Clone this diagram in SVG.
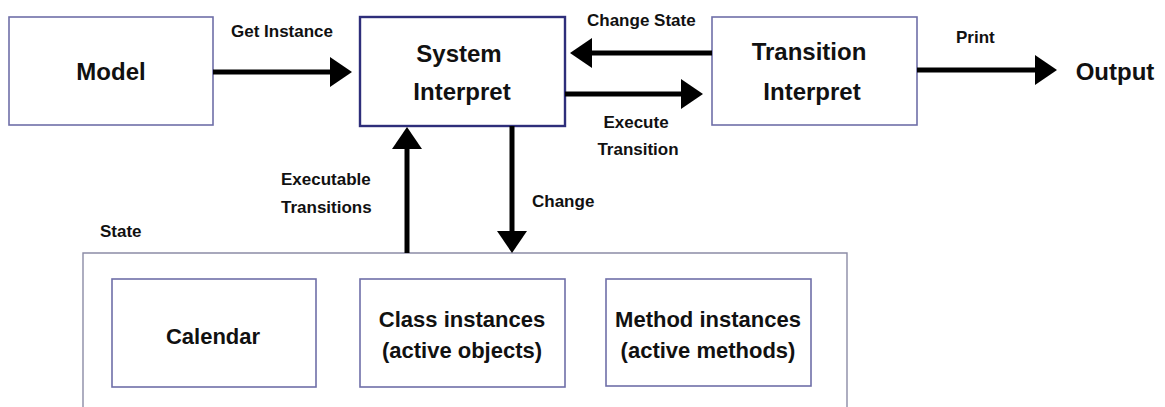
<svg xmlns="http://www.w3.org/2000/svg" width="1165" height="407" viewBox="0 0 1165 407">
<style>
.box{fill:#fff;stroke:#6f6fa8;stroke-width:1.6}
.main{fill:#fff;stroke:#2e2e7a;stroke-width:2.4}
.state{fill:#fff;stroke:#8c8ca6;stroke-width:1.4}
.big{font-family:"Liberation Sans",Arial,sans-serif;font-weight:bold;font-size:24px;fill:#111;text-anchor:middle}
.mid{font-family:"Liberation Sans",Arial,sans-serif;font-weight:bold;font-size:22px;fill:#111;text-anchor:middle}
.lbl{font-family:"Liberation Sans",Arial,sans-serif;font-weight:bold;font-size:17px;fill:#111}
.conn{stroke:#000;stroke-width:5;fill:none;marker-end:url(#ah)}
</style>
<defs>
<marker id="ah" markerUnits="userSpaceOnUse" markerWidth="24" markerHeight="32" refX="2" refY="15" orient="auto" viewBox="0 0 24 32">
<path d="M0,0 L22,15 L0,30 Z" fill="#000"/>
</marker>
</defs>
<rect width="1165" height="407" fill="#fff"/>
<g id="state">
<path class="state" d="M83,410 L83,253 L847,253 L847,410"/>
<text class="lbl" x="100" y="237">State</text>
</g>
<g id="model">
<rect class="box" x="9" y="17" width="204" height="108"/>
<text class="big" x="111" y="80">Model</text>
</g>
<g id="system">
<rect class="main" x="360" y="17" width="205" height="109"/>
<text class="big" x="459" y="62">System</text>
<text class="big" x="462" y="100">Interpret</text>
</g>
<g id="transition">
<rect class="box" x="712" y="17" width="205" height="108"/>
<text class="big" x="809" y="60">Transition</text>
<text class="big" x="812" y="100">Interpret</text>
</g>
<g id="output">
<text class="big" x="1115" y="80">Output</text>
</g>
<g id="calendar">
<rect class="box" x="112" y="279" width="204" height="108"/>
<text class="mid" x="213" y="344">Calendar</text>
</g>
<g id="class">
<rect class="box" x="360" y="279" width="205" height="108"/>
<text class="mid" x="462" y="327">Class instances</text>
<text class="mid" x="462" y="358">(active objects)</text>
</g>
<g id="method">
<rect class="box" x="606" y="279" width="205" height="107"/>
<text class="mid" x="708" y="327">Method instances</text>
<text class="mid" x="708" y="358">(active methods)</text>
</g>
<g id="connectors">
<line class="conn" x1="213" y1="72" x2="332" y2="72"/>
<line class="conn" x1="712" y1="53" x2="590" y2="53"/>
<line class="conn" x1="565" y1="94" x2="683" y2="94"/>
<line class="conn" x1="917" y1="70" x2="1037" y2="70"/>
<line class="conn" x1="407" y1="253" x2="407" y2="147"/>
<line class="conn" x1="512" y1="126" x2="512" y2="233"/>
<text class="lbl" x="231" y="37">Get Instance</text>
<text class="lbl" x="587" y="26">Change State</text>
<text class="lbl" x="956" y="43">Print</text>
<text class="lbl" x="636" y="128" text-anchor="middle">Execute</text>
<text class="lbl" x="638" y="155" text-anchor="middle">Transition</text>
<text class="lbl" x="281" y="185">Executable</text>
<text class="lbl" x="281" y="213">Transitions</text>
<text class="lbl" x="532" y="207">Change</text>
</g>
</svg>
